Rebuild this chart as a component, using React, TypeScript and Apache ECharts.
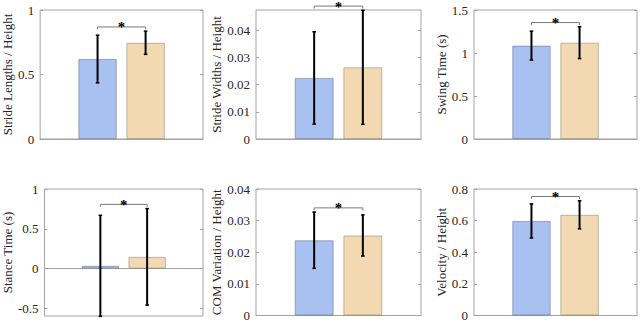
import React, { useEffect, useRef } from "react";
import * as echarts from "echarts";

// ---- data ----
const panelNames = [
  "Stride Lengths / Height",
  "Stride Widths / Height",
  "Swing Time (s)",
  "Stance Time (s)",
  "COM Variation / Height",
  "Velocity / Height",
];
const groupAMeans = [0.62, 0.0225, 1.086, 0.035, 0.0238, 0.598];
const groupAErr = [0.185, 0.017, 0.168, 0.635, 0.0089, 0.108];
const groupBMeans = [0.746, 0.0264, 1.12, 0.148, 0.0253, 0.637];
const groupBErr = [0.09, 0.021, 0.185, 0.606, 0.0065, 0.089];
const yMin = [0, 0, 0, -0.595, 0, 0];
const yMax = [1, 0.0475, 1.5, 1, 0.04, 0.8];
const tickValues = [
  [0, 0.5, 1],
  [0, 0.01, 0.02, 0.03, 0.04],
  [0, 0.5, 1, 1.5],
  [-0.5, 0, 0.5, 1],
  [0, 0.01, 0.02, 0.03, 0.04],
  [0, 0.2, 0.4, 0.6, 0.8],
];
const categories = ["group"];

// ---- style / layout ----
const gridBoxes = [
  { left: 38, top: 10, width: 165, height: 129 },
  { left: 256, top: 10, width: 165, height: 129 },
  { left: 474, top: 10, width: 163, height: 129 },
  { left: 38, top: 189, width: 165, height: 127 },
  { left: 256, top: 189, width: 165, height: 127 },
  { left: 474, top: 189, width: 163, height: 127 },
];
const nameGaps = [21, 26, 21, 25, 26, 22];
const BAR_FRAC = 0.236;
const BAR_GAP = 0.25;
const AXIS_GRAY = "#a3a3a3";
const TEXT_COLOR = "#262626";
const FONT = "Liberation Serif";
const BLUE = "#a8c1f1";
const ORANGE = "#f2d9b1";

const fmt = (v: number) => String(+Number(v).toFixed(6));

export default function App() {
  const ref = useRef<HTMLDivElement>(null);
  useEffect(() => {
    if (!ref.current) return;
    const chart = echarts.init(ref.current, null, { renderer: "svg" });

    const grid: any[] = [];
    const xAxis: any[] = [];
    const yAxis: any[] = [];
    const series: any[] = [];

    for (let i = 0; i < 6; i++) {
      grid.push({
        ...gridBoxes[i],
        show: true,
        borderColor: AXIS_GRAY,
        borderWidth: 1,
        backgroundColor: "transparent",
        containLabel: false,
      });
      xAxis.push({
        type: "category",
        gridIndex: i,
        data: categories,
        axisLine: { show: true, onZero: true, lineStyle: { color: AXIS_GRAY, width: 1.2 } },
        axisTick: { show: false },
        axisLabel: { show: false },
        splitLine: { show: false },
      });
      const common = {
        type: "value",
        gridIndex: i,
        min: yMin[i],
        max: yMax[i],
        splitLine: { show: false },
        axisLine: { show: false },
        axisTick: {
          show: true,
          inside: true,
          length: 3,
          customValues: tickValues[i],
          lineStyle: { color: AXIS_GRAY },
        },
      };
      yAxis.push({
        ...common,
        position: "left",
        name: panelNames[i],
        nameLocation: "middle",
        nameGap: nameGaps[i],
        nameTextStyle: { fontFamily: FONT, fontSize: 13, color: TEXT_COLOR },
        axisLabel: {
          show: true,
          customValues: tickValues[i],
          formatter: fmt,
          fontFamily: FONT,
          fontSize: 13,
          color: TEXT_COLOR,
          margin: 6,
        },
      });
      yAxis.push({
        ...common,
        position: "right",
        axisLabel: { show: false },
      });

      const yIdx = 2 * i;
      series.push({
        type: "bar",
        xAxisIndex: i,
        yAxisIndex: yIdx,
        data: [groupAMeans[i]],
        barWidth: `${BAR_FRAC * 100}%`,
        barGap: `${BAR_GAP * 100}%`,
        itemStyle: { color: BLUE, borderColor: "rgba(80,90,120,0.45)", borderWidth: 1 },
        z: 2,
      });
      series.push({
        type: "bar",
        xAxisIndex: i,
        yAxisIndex: yIdx,
        data: [groupBMeans[i]],
        barWidth: `${BAR_FRAC * 100}%`,
        barGap: `${BAR_GAP * 100}%`,
        itemStyle: { color: ORANGE, borderColor: "rgba(120,110,90,0.45)", borderWidth: 1 },
        z: 2,
      });
      // error bars
      series.push({
        type: "custom",
        xAxisIndex: i,
        yAxisIndex: yIdx,
        z: 5,
        clip: false,
        data: [
          [0, groupAMeans[i], groupAErr[i]],
          [0, groupBMeans[i], groupBErr[i]],
        ],
        renderItem: (params: any, api: any) => {
          const bw = api.size([1, 0])[0];
          const off = (bw * BAR_FRAC * (1 + BAR_GAP)) / 2;
          const m = api.value(1);
          const e = api.value(2);
          const top = api.coord([0, m + e]);
          const bot = api.coord([0, m - e]);
          const x = top[0] + (params.dataIndex === 0 ? -off : off);
          const cap = 1.8;
          const st = { stroke: "#000", lineWidth: 2 };
          const capSt = { stroke: "#000", lineWidth: 1.5 };
          return {
            type: "group",
            children: [
              { type: "line", shape: { x1: x, y1: top[1], x2: x, y2: bot[1] }, style: st },
              { type: "line", shape: { x1: x - cap, y1: top[1], x2: x + cap, y2: top[1] }, style: capSt },
              { type: "line", shape: { x1: x - cap, y1: bot[1], x2: x + cap, y2: bot[1] }, style: capSt },
            ],
          };
        },
      });
      // significance bracket
      series.push({
        type: "custom",
        xAxisIndex: i,
        yAxisIndex: yIdx,
        z: 6,
        clip: false,
        data: [[0, groupAMeans[i] + groupAErr[i], groupBMeans[i] + groupBErr[i]]],
        renderItem: (params: any, api: any) => {
          const bw = api.size([1, 0])[0];
          const off = (bw * BAR_FRAC * (1 + BAR_GAP)) / 2;
          const a = api.coord([0, api.value(1)]);
          const b = api.coord([0, api.value(2)]);
          const yTop = Math.min(a[1], b[1]) - 4.2;
          const x1 = a[0] - off;
          const x2 = a[0] + off;
          return {
            type: "group",
            children: [
              {
                type: "polyline",
                shape: { points: [[x1, yTop + 2.5], [x1, yTop], [x2, yTop], [x2, yTop + 2.5]] },
                style: { stroke: "#7a7a7a", lineWidth: 1, fill: null },
              },
              {
                type: "text",
                style: {
                  text: "*",
                  x: (x1 + x2) / 2,
                  y: yTop + 0.5,
                  align: "center",
                  verticalAlign: "middle",
                  fontSize: 15,
                  fontWeight: "bold",
                  fontFamily: FONT,
                  fill: "#000",
                },
              },
            ],
          };
        },
      });
    }

    chart.setOption({
      animation: false,
      backgroundColor: "#ffffff",
      grid,
      xAxis,
      yAxis,
      series,
    });
    return () => chart.dispose();
  }, []);

  return (
    <div
      ref={ref}
      style={{ position: "fixed", left: 0, top: 0, width: 640, height: 322, background: "#fff" }}
    />
  );
}
